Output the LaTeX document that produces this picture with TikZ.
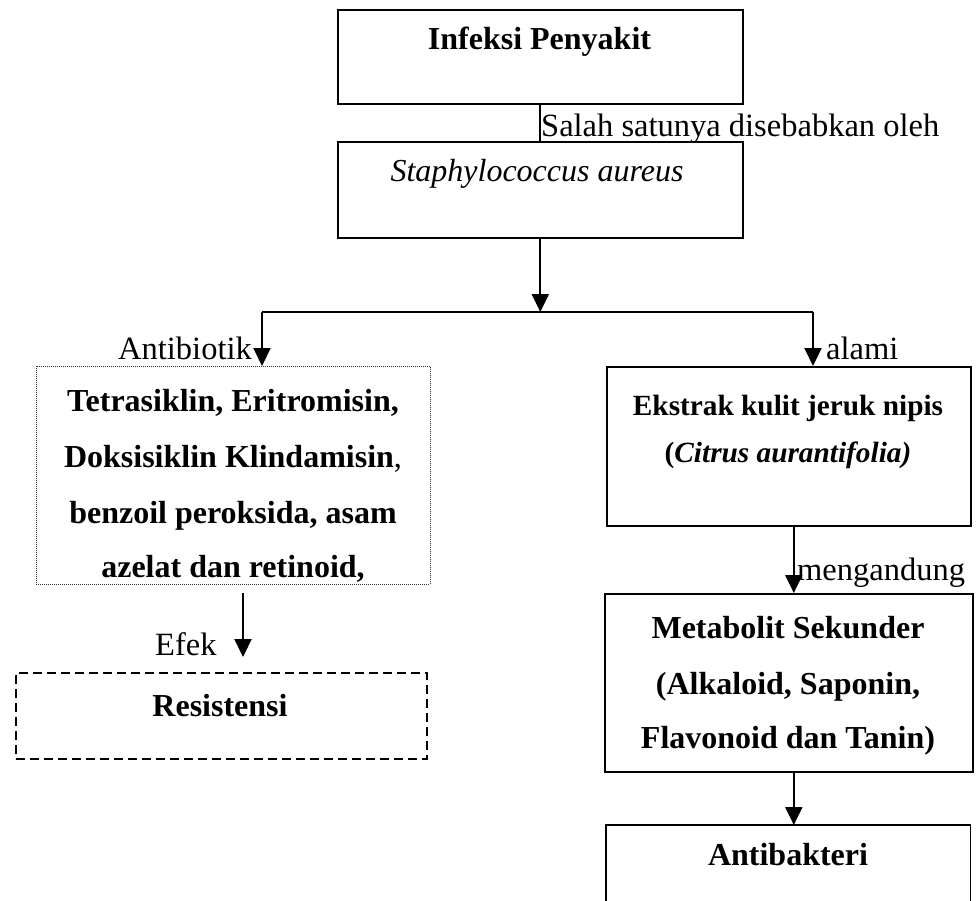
\documentclass[tikz,border=0pt]{standalone}
\usepackage{fontspec}
\setmainfont{Liberation Serif}
\usetikzlibrary{arrows.meta}
\begin{document}
\begin{tikzpicture}[x=1pt,y=-1pt,
  box/.style={draw, line width=1.6pt, rectangle, inner sep=0pt, anchor=north west},
  txt/.style={anchor=base, inner sep=0pt, font=\fontsize{32.5}{38}\selectfont},
  btxt/.style={anchor=base, inner sep=0pt, font=\fontsize{32}{38}\selectfont\bfseries},
  stxt/.style={anchor=base, inner sep=0pt, font=\fontsize{29.3}{35}\selectfont\bfseries},
  arr/.style={line width=2.2pt, -{Triangle[width=17pt,length=18pt]}},
  ln/.style={line width=2pt}]
\useasboundingbox[fill=white] (0,0) rectangle (976,901);
% boxes
\node[box, minimum width=405pt, minimum height=94pt] (b1) at (337,9) {};
\node[box, minimum width=405pt, minimum height=96pt] (b2) at (337,141) {};
\node[box, draw=black!80, line width=0.8pt, dash pattern=on 1pt off 1pt, minimum width=394pt, minimum height=218pt] (b3) at (36,366) {};
\node[box, minimum width=364pt, minimum height=159pt] (b4) at (606,366) {};
\node[box, minimum width=368pt, minimum height=178pt] (b5) at (604,593) {};
\node[anchor=north west, inner sep=0pt, minimum width=364pt, minimum height=90pt] (b6) at (606,825) {};
\draw[line width=1.6pt] (b6.south west) -- (b6.north west) -- (b6.north east) -- (b6.south east);
\node[box, line width=1.8pt, dash pattern=on 9pt off 5pt, minimum width=411pt, minimum height=86pt] (b7) at (15,672) {};
% texts
\node[btxt] (t1) at (539.5,50) {Infeksi Penyakit};
\node[txt, font=\fontsize{32}{38}\selectfont\itshape] (t2) at (537,182) {Staphylococcus aureus};
\node[txt, anchor=base west] (l1) at (541,137) {Salah satunya disebabkan oleh};
\node[txt, anchor=base east] (l2) at (252,359) {Antibiotik};
\node[txt, anchor=base west] (l3) at (826,359) {alami};
\node[btxt] (t3a) at (233,411) {Tetrasiklin, Eritromisin,};
\node[btxt] (t3b) at (233,467) {Doksisiklin Klindamisin\mdseries,};
\node[btxt] (t3c) at (233,523) {benzoil peroksida, asam};
\node[btxt] (t3d) at (233,577) {azelat dan retinoid,};
\node[txt, anchor=base west] (l4) at (155,655) {Efek};
\node[btxt] (t7) at (220,716) {Resistensi};
\node[stxt] (t4a) at (788,415) {Ekstrak kulit jeruk nipis};
\node[stxt] (t4b) at (788,462) {(\textit{Citrus aurantifolia)}};
\node[txt, anchor=base west] (l5) at (797,580) {mengandung};
\node[btxt] (t5a) at (788,638) {Metabolit Sekunder};
\node[btxt] (t5b) at (788,694) {(Alkaloid, Saponin,};
\node[btxt] (t5c) at (788,748) {Flavonoid dan Tanin)};
\node[btxt] (t6) at (788,865) {Antibakteri};
% connectors
\coordinate (j) at (538,312);
\coordinate (jl) at (262,312);
\coordinate (jr) at (813,312);
\coordinate (e1) at (243,593);
\coordinate (e2) at (243,657);
\draw[ln] (b1.south) -- (b2.north);
\draw[arr] (b2.south) -- (b2.south |- j);
\draw[ln] (jl) -- (jr);
\draw[arr] (jl) -- (jl |- b3.north);
\draw[arr] (jr) -- (jr |- b4.north);
\draw[arr] (e1) -- (e2);
\draw[arr] ([xshift=5pt]b4.south) -- ([xshift=5pt]b4.south |- b5.north);
\draw[arr] ([xshift=5pt]b5.south) -- ([xshift=5pt]b5.south |- b6.north);
\end{tikzpicture}
\end{document}
